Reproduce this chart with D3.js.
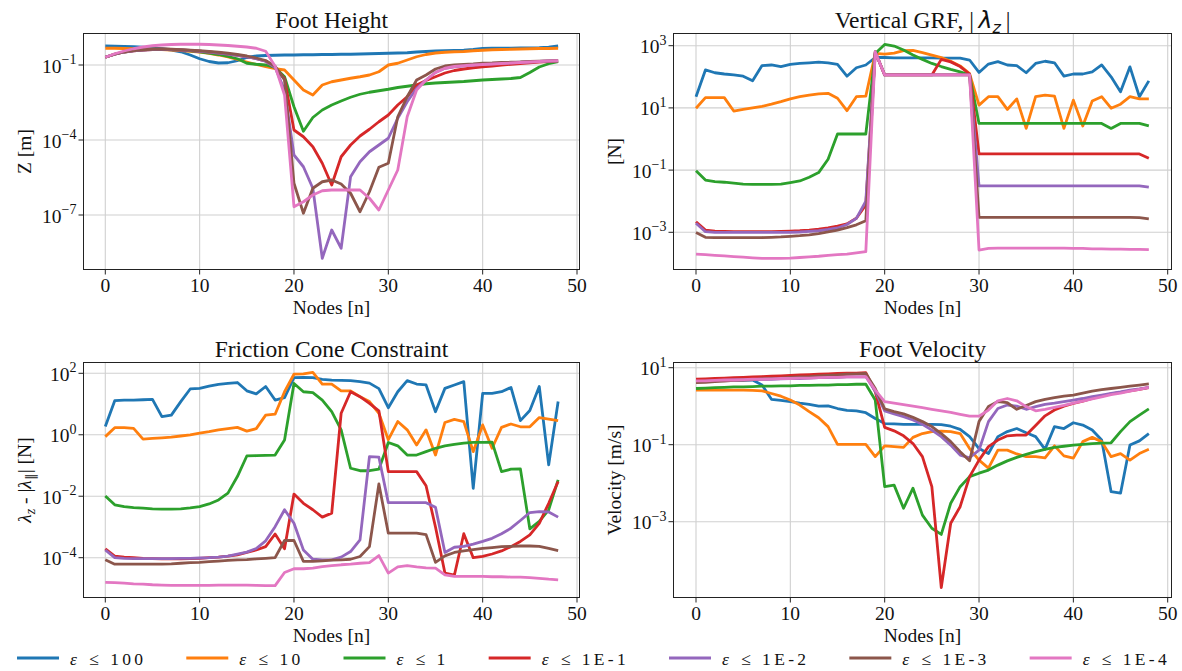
<!DOCTYPE html>
<html><head><meta charset="utf-8">
<script src="https://cdn.jsdelivr.net/npm/d3@7"></script>
<style>
body{margin:0;background:#fff}
svg{font-family:"Liberation Serif","Times New Roman",serif}
</style>
</head><body>
<svg id="chart" width="1182" height="671"></svg>
<script>
// ---------------- DATA (values read as log10 of the plotted quantity) ----------------
const nodes = [0,1,2,3,4,5,6,7,8,9,10,11,12,13,14,15,16,17,18,19,20,21,22,23,24,25,26,27,28,29,30,31,32,33,34,35,36,37,38,39,40,41,42,43,44,45,46,47,48];
const epsLabels = ["100","10","1","1E-1","1E-2","1E-3","1E-4"];
const colors = ["#1f77b4","#ff7f0e","#2ca02c","#d62728","#9467bd","#8c564b","#e377c2"];

// Foot Height, log10 Z [m]
const footH_100 = [-0.24,-0.25,-0.26,-0.27,-0.29,-0.32,-0.35,-0.40,-0.47,-0.60,-0.75,-0.86,-0.92,-0.91,-0.83,-0.70,-0.64,-0.62,-0.61,-0.60,-0.60,-0.59,-0.59,-0.58,-0.58,-0.57,-0.57,-0.56,-0.55,-0.54,-0.53,-0.52,-0.51,-0.48,-0.46,-0.44,-0.43,-0.42,-0.41,-0.38,-0.34,-0.33,-0.33,-0.33,-0.32,-0.32,-0.31,-0.29,-0.24];
const footH_10  = [-0.33,-0.33,-0.34,-0.35,-0.36,-0.37,-0.38,-0.40,-0.42,-0.45,-0.48,-0.53,-0.60,-0.68,-0.78,-0.88,-0.98,-1.07,-1.15,-1.20,-1.60,-2.00,-2.20,-1.80,-1.67,-1.60,-1.53,-1.47,-1.40,-1.27,-1.00,-0.93,-0.80,-0.67,-0.58,-0.52,-0.49,-0.47,-0.46,-0.43,-0.41,-0.39,-0.38,-0.37,-0.36,-0.35,-0.34,-0.34,-0.33];
const footH_1   = [-0.69,-0.57,-0.48,-0.42,-0.39,-0.37,-0.37,-0.38,-0.40,-0.43,-0.47,-0.52,-0.58,-0.66,-0.75,-0.93,-0.97,-1.00,-1.10,-1.47,-2.67,-3.65,-3.10,-2.80,-2.60,-2.44,-2.29,-2.17,-2.09,-2.03,-1.97,-1.90,-1.85,-1.80,-1.75,-1.72,-1.70,-1.68,-1.66,-1.63,-1.60,-1.58,-1.56,-1.54,-1.50,-1.30,-1.08,-0.95,-0.87];
const footH_1e1 = [-0.69,-0.57,-0.48,-0.43,-0.40,-0.38,-0.37,-0.38,-0.40,-0.42,-0.45,-0.48,-0.52,-0.56,-0.61,-0.67,-0.75,-0.85,-1.10,-1.55,-3.60,-3.87,-4.27,-4.93,-5.80,-4.67,-4.20,-3.84,-3.57,-3.27,-3.00,-2.60,-2.27,-1.80,-1.62,-1.47,-1.32,-1.22,-1.16,-1.11,-1.07,-1.04,-1.00,-0.97,-0.94,-0.91,-0.88,-0.86,-0.83];
const footH_1e2 = [-0.69,-0.57,-0.48,-0.43,-0.40,-0.38,-0.37,-0.38,-0.40,-0.42,-0.45,-0.48,-0.52,-0.56,-0.61,-0.67,-0.75,-0.85,-1.10,-2.00,-4.60,-5.07,-5.93,-8.73,-7.60,-8.33,-5.47,-4.87,-4.47,-4.20,-3.93,-3.13,-2.47,-1.93,-1.60,-1.30,-1.13,-1.07,-1.03,-1.00,-0.97,-0.95,-0.93,-0.91,-0.89,-0.87,-0.86,-0.84,-0.83];
const footH_1e3 = [-0.69,-0.56,-0.47,-0.42,-0.39,-0.37,-0.36,-0.37,-0.39,-0.41,-0.43,-0.46,-0.49,-0.53,-0.58,-0.64,-0.72,-0.82,-1.05,-1.60,-5.73,-6.93,-5.93,-5.67,-5.60,-5.76,-6.13,-6.87,-6.07,-5.09,-4.93,-3.07,-2.27,-1.60,-1.40,-1.16,-1.04,-1.00,-0.98,-0.96,-0.93,-0.92,-0.90,-0.89,-0.88,-0.86,-0.85,-0.84,-0.83];
const footH_1e4 = [-0.69,-0.55,-0.44,-0.35,-0.28,-0.23,-0.20,-0.18,-0.17,-0.17,-0.17,-0.18,-0.20,-0.22,-0.25,-0.28,-0.33,-0.45,-1.05,-2.20,-6.67,-6.47,-6.20,-6.03,-6.00,-6.00,-6.00,-6.00,-6.33,-6.80,-6.00,-5.20,-3.07,-2.00,-1.60,-1.30,-1.13,-1.06,-1.03,-1.00,-0.98,-0.96,-0.94,-0.92,-0.90,-0.88,-0.86,-0.84,-0.83];

// Vertical GRF, log10 |lambda_z| [N]
const grf_100 = [1.36,2.22,2.13,2.09,2.06,2.02,1.87,2.36,2.38,2.33,2.40,2.43,2.45,2.47,2.45,2.40,2.02,2.29,2.38,2.62,2.62,2.61,2.61,2.61,2.61,2.61,2.60,2.60,2.60,2.54,2.14,2.41,2.49,2.38,2.36,2.13,2.43,2.50,2.45,2.02,2.09,2.09,2.16,2.38,2.00,1.52,2.32,1.36,1.87];
const grf_10  = [0.99,1.33,1.33,1.33,0.90,0.95,1.00,1.05,1.12,1.20,1.29,1.36,1.41,1.45,1.47,1.31,0.91,1.36,1.38,2.75,2.73,2.76,2.84,2.85,2.78,2.70,2.62,2.50,2.35,2.10,1.09,1.36,1.36,0.95,1.29,0.34,1.36,1.41,1.38,0.34,1.25,0.42,1.22,1.36,0.99,1.12,1.36,1.29,1.29];
const grf_1   = [-1.02,-1.32,-1.37,-1.39,-1.42,-1.45,-1.46,-1.46,-1.46,-1.45,-1.40,-1.35,-1.23,-1.08,-0.65,0.16,0.16,0.16,0.16,2.75,3.04,2.99,2.86,2.70,2.56,2.43,2.33,2.24,2.16,2.06,0.50,0.50,0.50,0.50,0.50,0.50,0.50,0.50,0.50,0.50,0.50,0.50,0.50,0.50,0.34,0.50,0.50,0.50,0.42];
const grf_1e1 = [-2.66,-2.93,-2.96,-2.97,-2.98,-2.98,-2.98,-2.98,-2.98,-2.97,-2.96,-2.95,-2.93,-2.90,-2.86,-2.80,-2.73,-2.55,-2.12,2.80,2.06,2.06,2.06,2.06,2.06,2.06,2.56,2.48,2.33,2.09,-0.48,-0.48,-0.48,-0.48,-0.48,-0.48,-0.48,-0.48,-0.48,-0.48,-0.48,-0.48,-0.48,-0.48,-0.48,-0.48,-0.48,-0.48,-0.62];
const grf_1e2 = [-2.71,-2.98,-3.00,-3.00,-3.00,-3.00,-3.00,-3.00,-3.00,-3.00,-3.00,-2.99,-2.97,-2.95,-2.91,-2.86,-2.75,-2.55,-2.00,2.80,2.06,2.06,2.06,2.06,2.06,2.06,2.06,2.06,2.06,2.06,-1.51,-1.51,-1.51,-1.51,-1.51,-1.51,-1.51,-1.51,-1.51,-1.51,-1.51,-1.51,-1.51,-1.51,-1.51,-1.51,-1.51,-1.51,-1.55];
const grf_1e3 = [-3.01,-3.16,-3.17,-3.17,-3.17,-3.17,-3.17,-3.17,-3.16,-3.15,-3.13,-3.11,-3.08,-3.04,-2.99,-2.93,-2.85,-2.76,-2.63,2.80,2.06,2.06,2.06,2.06,2.06,2.06,2.06,2.06,2.06,2.06,-2.52,-2.52,-2.52,-2.52,-2.52,-2.52,-2.52,-2.52,-2.52,-2.52,-2.52,-2.52,-2.52,-2.52,-2.52,-2.52,-2.52,-2.53,-2.57];
const grf_1e4 = [-3.70,-3.72,-3.74,-3.76,-3.78,-3.80,-3.82,-3.84,-3.84,-3.84,-3.83,-3.81,-3.79,-3.77,-3.74,-3.72,-3.70,-3.66,-3.62,2.80,2.06,2.06,2.06,2.06,2.06,2.06,2.06,2.06,2.06,2.06,-3.57,-3.52,-3.51,-3.51,-3.51,-3.51,-3.51,-3.51,-3.51,-3.51,-3.52,-3.52,-3.53,-3.53,-3.54,-3.54,-3.55,-3.55,-3.56];

// Friction Cone Constraint, log10 (lambda_z - |lambda_par|) [N]
const cone_100 = [0.27,1.11,1.13,1.13,1.14,1.15,0.59,0.64,1.08,1.49,1.51,1.58,1.64,1.67,1.70,1.43,1.33,1.57,1.13,1.21,1.86,1.87,1.86,1.80,1.78,1.77,1.76,1.73,1.68,1.50,0.88,1.40,1.76,1.65,1.62,0.75,1.51,1.62,1.73,-1.74,1.35,1.35,1.40,1.54,0.46,0.79,1.57,-0.98,1.08];
const cone_10  = [-0.06,0.23,0.23,0.21,-0.14,-0.12,-0.10,-0.08,-0.04,0.00,0.05,0.10,0.16,0.20,0.24,0.12,0.20,0.64,0.67,1.40,1.97,1.98,2.03,1.65,1.65,1.43,1.43,1.24,1.08,0.70,-0.16,0.43,0.16,-0.33,0.16,-0.66,0.40,0.50,0.43,-0.55,0.32,-0.44,0.24,0.35,0.26,0.26,0.56,0.51,0.46];
const cone_1   = [-1.99,-2.28,-2.34,-2.37,-2.39,-2.41,-2.42,-2.42,-2.41,-2.38,-2.34,-2.25,-2.12,-1.90,-1.36,-0.69,-0.68,-0.67,-0.66,-0.17,1.67,1.40,1.37,1.13,0.75,0.16,-1.09,-1.17,-1.17,-1.12,-0.25,-0.36,-0.66,-0.66,-0.55,-0.44,-0.36,-0.31,-0.27,-0.25,-0.25,-0.24,-1.20,-1.12,-1.11,-3.06,-2.82,-2.44,-1.47];
const cone_1e1 = [-3.71,-3.95,-3.98,-4.00,-4.02,-4.03,-4.04,-4.04,-4.04,-4.03,-4.02,-4.00,-3.98,-3.95,-3.91,-3.83,-3.75,-3.64,-3.23,-3.71,-1.93,-2.23,-2.44,-2.68,-2.55,0.70,1.40,1.24,1.02,0.78,-1.20,-1.20,-1.20,-1.20,-1.66,-3.00,-4.50,-4.57,-3.22,-4.00,-3.96,-3.88,-3.78,-3.64,-3.47,-3.26,-2.88,-2.23,-1.52];
const cone_1e2 = [-3.75,-4.00,-4.02,-4.03,-4.03,-4.03,-4.03,-4.03,-4.02,-4.02,-4.01,-4.00,-3.98,-3.95,-3.88,-3.82,-3.70,-3.45,-2.99,-2.44,-2.88,-3.75,-4.05,-4.07,-4.07,-3.98,-3.80,-3.42,-0.71,-0.73,-2.21,-2.21,-2.21,-2.21,-2.21,-2.36,-3.83,-3.66,-3.63,-3.56,-3.47,-3.37,-3.22,-3.04,-2.79,-2.53,-2.50,-2.51,-2.68];
const cone_1e3 = [-4.07,-4.21,-4.21,-4.21,-4.21,-4.21,-4.21,-4.20,-4.18,-4.16,-4.15,-4.13,-4.11,-4.09,-4.07,-4.06,-4.04,-4.02,-4.00,-3.44,-3.44,-4.12,-4.12,-4.10,-4.08,-4.07,-4.05,-3.96,-3.64,-1.60,-3.20,-3.20,-3.20,-3.20,-3.25,-4.15,-3.94,-3.83,-3.78,-3.74,-3.70,-3.67,-3.64,-3.63,-3.62,-3.62,-3.63,-3.70,-3.77];
const cone_1e4 = [-4.80,-4.81,-4.83,-4.85,-4.86,-4.88,-4.89,-4.90,-4.90,-4.90,-4.90,-4.90,-4.89,-4.89,-4.89,-4.89,-4.90,-4.91,-4.91,-4.48,-4.36,-4.36,-4.34,-4.29,-4.26,-4.23,-4.21,-4.18,-4.16,-3.93,-4.50,-4.30,-4.26,-4.30,-4.33,-4.34,-4.56,-4.61,-4.61,-4.61,-4.61,-4.62,-4.62,-4.63,-4.63,-4.65,-4.67,-4.70,-4.72];

// Foot Velocity, log10 [m/s]
const vel_100 = [0.66,0.67,0.68,0.68,0.68,0.68,0.68,0.55,0.18,0.15,0.12,0.08,0.05,0.00,0.01,-0.06,-0.11,-0.12,-0.17,-0.32,-0.45,-0.46,-0.47,-0.47,-0.47,-0.47,-0.48,-0.52,-0.60,-0.79,-1.10,-1.23,-0.79,-0.66,-0.58,-0.69,-0.79,-1.12,-0.53,-0.58,-0.43,-0.49,-0.62,-0.88,-2.22,-2.26,-1.01,-0.90,-0.71];
const vel_10  = [0.42,0.42,0.42,0.42,0.42,0.42,0.41,0.40,0.33,0.26,0.16,0.03,-0.14,-0.30,-0.53,-0.99,-0.99,-0.99,-0.99,-1.31,-1.03,-1.05,-1.07,-0.81,-0.71,-0.66,-0.65,-0.66,-0.71,-1.10,-1.40,-1.61,-1.14,-1.14,-1.24,-1.31,-1.31,-1.34,-1.03,-1.29,-1.35,-0.92,-0.81,-0.92,-1.31,-1.23,-1.40,-1.23,-1.12];
const vel_1   = [0.46,0.47,0.48,0.49,0.50,0.50,0.51,0.52,0.52,0.53,0.53,0.54,0.54,0.55,0.55,0.56,0.56,0.57,0.57,0.16,-2.09,-2.05,-2.65,-2.13,-2.83,-3.17,-3.33,-2.52,-2.09,-1.83,-1.74,-1.66,-1.53,-1.42,-1.33,-1.25,-1.18,-1.12,-1.07,-1.04,-1.01,-0.99,-0.97,-0.96,-0.95,-0.66,-0.40,-0.23,-0.07];
const vel_1e1 = [0.70,0.71,0.72,0.73,0.74,0.75,0.76,0.77,0.78,0.79,0.80,0.81,0.82,0.83,0.84,0.85,0.86,0.86,0.87,0.38,-0.55,-0.64,-0.77,-0.97,-1.31,-2.09,-4.71,-3.04,-2.61,-1.83,-1.40,-1.05,-0.88,-0.77,-0.75,-0.75,-0.50,-0.25,-0.10,0.00,0.07,0.13,0.20,0.26,0.32,0.36,0.40,0.44,0.48];
const vel_1e2 = [0.64,0.65,0.66,0.67,0.68,0.68,0.69,0.70,0.70,0.71,0.72,0.72,0.73,0.74,0.74,0.75,0.76,0.76,0.77,0.39,-0.12,-0.20,-0.27,-0.36,-0.47,-0.62,-0.79,-1.01,-1.27,-1.34,-1.14,-0.40,-0.06,0.03,0.00,-0.08,-0.01,0.05,0.08,0.12,0.16,0.20,0.25,0.29,0.33,0.37,0.42,0.45,0.49];
const vel_1e3 = [0.61,0.62,0.64,0.65,0.67,0.68,0.69,0.71,0.72,0.73,0.75,0.76,0.77,0.79,0.80,0.81,0.83,0.84,0.85,0.46,-0.07,-0.14,-0.20,-0.29,-0.40,-0.53,-0.71,-0.92,-1.18,-1.42,-0.40,-0.01,0.12,0.09,-0.08,0.02,0.12,0.18,0.22,0.26,0.29,0.34,0.39,0.43,0.46,0.49,0.52,0.55,0.58];
const vel_1e4 = [0.66,0.66,0.67,0.68,0.68,0.69,0.70,0.70,0.71,0.72,0.72,0.73,0.73,0.74,0.75,0.75,0.76,0.76,0.77,0.42,0.12,0.08,0.04,0.00,-0.04,-0.08,-0.12,-0.16,-0.21,-0.26,-0.26,-0.10,0.14,0.20,0.14,-0.01,-0.12,-0.08,-0.03,0.02,0.08,0.13,0.19,0.24,0.30,0.34,0.39,0.44,0.49];

// tick exponents per panel
const footTicks = [-1,-4,-7];
const grfTicks = [3,1,-1,-3];
const coneTicks = [2,0,-2,-4];
const velTicks = [1,-1,-3];
const xTicks = [0,10,20,30,40,50];

// ---------------- DRAW ----------------
const svg = d3.select("#chart");
const FS_TICK = 19.5, FS_LABEL = 19.5, FS_TITLE = 23.5;

const panels = [
  {series:[footH_100,footH_10,footH_1,footH_1e1,footH_1e2,footH_1e3,footH_1e4], ticks:footTicks,
   frame:{l:83.5,r:579.5,t:33.5,b:269.5}, x0:105.3, x50:577, yA:[-7,215], yB:[-1,65], title:"Foot Height", ylabel:"Z [m]"},
  {series:[grf_100,grf_10,grf_1,grf_1e1,grf_1e2,grf_1e3,grf_1e4], ticks:grfTicks,
   frame:{l:673.5,r:1171.5,t:33.5,b:269.5}, x0:696, x50:1167.7, yA:[-3,232.3], yB:[3,45.7], title:"grf", ylabel:"[N]"},
  {series:[cone_100,cone_10,cone_1,cone_1e1,cone_1e2,cone_1e3,cone_1e4], ticks:coneTicks,
   frame:{l:83.5,r:579.5,t:362.5,b:597.5}, x0:105.3, x50:577, yA:[-4,557.7], yB:[2,373.3], title:"Friction Cone Constraint", ylabel:"cone"},
  {series:[vel_100,vel_10,vel_1,vel_1e1,vel_1e2,vel_1e3,vel_1e4], ticks:velTicks,
   frame:{l:673.5,r:1171.5,t:362.5,b:597.5}, x0:696, x50:1167.7, yA:[-3,521.7], yB:[1,367.7], title:"Foot Velocity", ylabel:"Velocity [m/s]"}
];

panels.forEach((p, pi) => {
  const f = p.frame;
  const g = svg.append("g");
  const x = d3.scaleLinear().domain([0,50]).range([p.x0, p.x50]);
  const y = d3.scaleLog().domain([Math.pow(10,p.yA[0]), Math.pow(10,p.yB[0])]).range([p.yA[1], p.yB[1]]);
  const clipId = "clip" + pi;
  svg.append("clipPath").attr("id", clipId).append("rect")
    .attr("x", f.l).attr("y", f.t).attr("width", f.r - f.l).attr("height", f.b - f.t);

  // grid
  const grid = g.append("g").attr("clip-path", `url(#${clipId})`);
  grid.selectAll("line.gx").data(xTicks).join("line")
    .attr("x1", d => x(d)).attr("x2", d => x(d)).attr("y1", f.t).attr("y2", f.b)
    .attr("stroke", "#d0d0d0").attr("stroke-width", 1.1);
  grid.selectAll("line.gy").data(p.ticks).join("line")
    .attr("y1", d => y(Math.pow(10,d))).attr("y2", d => y(Math.pow(10,d))).attr("x1", f.l).attr("x2", f.r)
    .attr("stroke", "#d0d0d0").attr("stroke-width", 1.1);

  // lines
  const line = d3.line().x((d,i) => x(nodes[i])).y(d => y(Math.pow(10,d)));
  const lg = g.append("g").attr("clip-path", `url(#${clipId})`);
  p.series.forEach((s, si) => {
    lg.append("path").attr("d", line(s)).attr("fill","none")
      .attr("stroke", colors[si]).attr("stroke-width", 2.8)
      .attr("stroke-linejoin","round").attr("stroke-linecap","butt");
  });

  // frame
  g.append("rect").attr("x", f.l).attr("y", f.t).attr("width", f.r - f.l).attr("height", f.b - f.t)
    .attr("fill","none").attr("stroke","#222").attr("stroke-width",1);

  // x ticks
  xTicks.forEach(t => {
    g.append("line").attr("x1", x(t)).attr("x2", x(t)).attr("y1", f.b).attr("y2", f.b + 5)
      .attr("stroke","#222").attr("stroke-width",1);
    g.append("text").attr("x", x(t)).attr("y", f.b + 22).attr("text-anchor","middle")
      .attr("font-size", FS_TICK).attr("fill","#111").text(t);
  });
  // y ticks
  p.ticks.forEach(t => {
    const yy = y(Math.pow(10,t));
    g.append("line").attr("x1", f.l - 5).attr("x2", f.l).attr("y1", yy).attr("y2", yy)
      .attr("stroke","#222").attr("stroke-width",1);
    const tx = g.append("text").attr("x", f.l - 7).attr("y", yy + 7.5).attr("text-anchor","end")
      .attr("font-size", FS_TICK).attr("fill","#111");
    tx.append("tspan").text("10");
    tx.append("tspan").attr("font-size", 14).attr("dy", -8.5).text(t < 0 ? "\u2212" + Math.abs(t) : String(t));
  });

  // x label
  g.append("text").attr("x", (f.l + f.r)/2).attr("y", f.b + 44).attr("text-anchor","middle")
    .attr("font-size", FS_LABEL).attr("fill","#111").text("Nodes [n]");

  // y label
  const yl = g.append("text").attr("transform", `translate(${f.l - 53},${(f.t + f.b)/2}) rotate(-90)`)
    .attr("text-anchor","middle").attr("font-size", FS_LABEL).attr("fill","#111");
  if (p.ylabel === "cone") {
    yl.append("tspan").attr("font-style","italic").text("λ");
    yl.append("tspan").attr("font-style","italic").attr("font-size",14).attr("dy",4).text("z");
    yl.append("tspan").attr("dy",-4).text(" - |");
    yl.append("tspan").attr("font-style","italic").text("λ");
    yl.append("tspan").attr("font-size",13).attr("dy",4).text("∥");
    yl.append("tspan").attr("dy",-4).text("| [N]");
  } else {
    yl.text(p.ylabel);
  }

  // title
  const tt = g.append("text").attr("x", (f.l + f.r)/2).attr("y", f.t - 6).attr("text-anchor","middle")
    .attr("font-size", FS_TITLE).attr("fill","#111");
  if (p.title === "grf") {
    tt.append("tspan").text("Vertical GRF, |\u2009");
    tt.append("tspan").attr("font-family","DejaVu Sans").attr("font-style","italic").text("λ");
    tt.append("tspan").attr("font-family","DejaVu Sans").attr("font-style","italic").attr("font-size",16).attr("dy",5).text("z");
    tt.append("tspan").attr("dy",-5).text("\u2009|");
  } else {
    tt.text(p.title);
  }
});

// ---------------- LEGEND ----------------
const leg = svg.append("g");
let lx = 0;
const LINE_LEN = 42, TEXT_OFF = 53, GAP = 40, LEG_Y = 658;
epsLabels.forEach((lab, i) => {
  leg.append("line").attr("x1", lx).attr("x2", lx + LINE_LEN).attr("y1", LEG_Y).attr("y2", LEG_Y)
    .attr("stroke", colors[i]).attr("stroke-width", 3);
  const t = leg.append("text").attr("x", lx + TEXT_OFF).attr("y", LEG_Y + 6.5)
    .attr("font-size", 17.5).attr("letter-spacing", "3.3px").attr("fill","#111");
  t.append("tspan").attr("font-style","italic").text("ε");
  t.append("tspan").attr("dx", 9).text("≤");
  t.append("tspan").attr("dx", 8).text(lab);
  const w = t.node().getBBox().width;
  lx = lx + TEXT_OFF + w + GAP;
});
const total = lx - GAP;
leg.attr("transform", `translate(${(12 + 1175 - total)/2},0)`);
</script>
</body></html>
